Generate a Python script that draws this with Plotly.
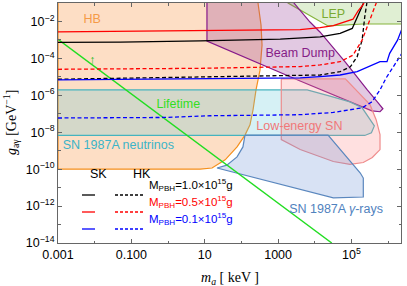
import plotly.graph_objects as go

# ---------------- data (m_a in keV, g in GeV^-1) ----------------
hb_m = [1e-3, 1e-3, 7.5, 15.8, 36, 76, 125, 171, 207, 250, 321, 365, 342, 283, 270]
hb_g = [1.0, 1e-10, 1e-10, 1.15e-10, 3.2e-10, 1.6e-9, 7e-9, 2.5e-8, 1.6e-7, 1.95e-6, 2.3e-5, 5.3e-4, 6.4e-3, 0.1, 1.0]

lep_m = [1000, 1860, 2.3e4, 2.07e5, 3e6, 3e6]
lep_g = [1.0, 0.1, 5.7e-3, 7.3e-3, 7.3e-3, 1.0]

bd_m = [11.5, 11.5, 3980, 1.43e5, 3.6e5, 6e5, 7.2e5, 5e5, 2.7e5, 6.8e4, 1.38e4, 7400, 2700, 1500]
bd_g = [1.0, 8.7e-4, 6.0e-6, 3.1e-7, 1.45e-7, 1.29e-7, 1.86e-7, 4.5e-7, 1.95e-6, 6.3e-5, 2.7e-3, 9.3e-3, 0.1, 1.0]

nu_m = [1e-3, 6.2e3, 2.6e4, 9.1e4, 1.95e5, 4.2e5, 3.5e5, 2.3e5, 1e-3]
nu_g = [1.95e-6, 1.95e-6, 9.1e-7, 4.4e-7, 2.1e-7, 2.2e-8, 9.3e-9, 6.7e-9, 6.7e-9]

le_m = [1.22e3, 6.8e4, 3.2e5, 4.7e5, 6e5, 6e5, 3.7e5, 2.1e5, 9.1e4, 3.2e4, 4e3, 1.22e3, 1.22e3]
le_g = [7.7e-6, 7.7e-6, 3.1e-7, 4.8e-8, 7.4e-9, 1.15e-9, 4.3e-10, 2.3e-10, 1.8e-10, 2.6e-10, 1.15e-9, 4e-9, 7.7e-6]

ga_m = [125, 2.3e4, 1.74e5, 2.1e5, 2.1e5, 3.2e4, 21.6, 40, 76, 110, 125]
ga_g = [7e-9, 7e-9, 6.2e-11, 3.3e-11, 3.1e-12, 2.8e-12, 1.15e-10, 1.65e-10, 4.6e-10, 1.6e-9, 7e-9]

life_m = [1e-3, 2.9e4]
life_g = [1.07e-3, 1e-14]

sk10_m = [1e-3, 0.05, 7.5, 1140, 1.4e4, 4.9e4, 1.05e5, 1.43e5, 2.1e5, 2.3e5]
sk10_g = [7.3e-4, 7.6e-4, 8.9e-4, 1.1e-3, 1.48e-3, 2.24e-3, 4.2e-3, 1.76e-2, 9.3e-2, 0.28]

sk05_m = [1e-3, 7.5, 4e3, 1.4e4, 3.2e4, 1.1e5, 1.5e5, 2.1e5, 2.5e5]
sk05_g = [2.74e-3, 3.1e-3, 3.6e-3, 4.6e-3, 5.9e-3, 1.32e-2, 3.6e-2, 8.5e-2, 0.2]

sk01_m = [1e-3, 7.5, 4e3, 1.4e4, 4.9e4, 1.43e5, 3.9e5, 6e5, 9.3e5, 1.1e6, 1.8e6, 2.4e6]
sk01_g = [6.8e-6, 7.7e-6, 8.7e-6, 1.02e-5, 1.26e-5, 1.9e-5, 4.4e-5, 6.6e-5, 6.6e-5, 1.87e-4, 9.7e-4, 4.2e-3]

hk10_m = [1e-3, 7.5, 4e3, 1.4e4, 4.9e4, 9.3e4, 1.43e5, 1.95e5, 2.3e5, 2.7e5, 2.9e5]
hk10_g = [7.4e-6, 9.5e-6, 1.12e-5, 1.26e-5, 1.9e-5, 3.5e-5, 1.23e-4, 9.7e-4, 1.76e-2, 9.3e-2, 0.38]

hk05_m = [1e-3, 7.5, 4e3, 1.4e4, 4.9e4, 1.1e5, 1.95e5, 3.2e5, 4.5e5, 5.4e5]
hk05_g = [2.57e-5, 2.9e-5, 3.6e-5, 4.4e-5, 6.6e-5, 1.5e-4, 9.7e-4, 1.17e-2, 6.1e-2, 0.2]

hk01_m = [1e-3, 0.74, 14, 4e3, 3.2e4, 1.95e5, 3.6e5, 6e5, 8.8e5, 1.3e6, 1.8e6, 2.4e6]
hk01_g = [5.9e-8, 6.3e-8, 7.8e-8, 8.9e-8, 1.18e-7, 2.1e-7, 4.4e-7, 1.95e-6, 8.7e-6, 3e-5, 8.1e-5, 1.95e-4]

x_tickvals = [1e-3, 0.1, 10, 1000, 1e5]
x_ticktext = ["0.001", "0.100", "10", "1000", "10<sup>5</sup>"]
x_minor = [1e-2, 1, 100, 1e4, 1e6]
y_tickvals = [1e-14, 1e-12, 1e-10, 1e-8, 1e-6, 1e-4, 1e-2]
y_ticktext = ["10<sup>−14</sup>", "10<sup>−12</sup>", "10<sup>−10</sup>", "10<sup>−8</sup>",
              "10<sup>−6</sup>", "10<sup>−4</sup>", "10<sup>−2</sup>"]
y_minor = [1e-13, 1e-11, 1e-9, 1e-7, 1e-5, 1e-3]

legend_rows = ["M<sub>PBH</sub>=1.0×10<sup>15</sup>g",
               "M<sub>PBH</sub>=0.5×10<sup>15</sup>g",
               "M<sub>PBH</sub>=0.1×10<sup>15</sup>g"]
legend_colors = ["black", "#ff0000", "#0000ff"]

# ---------------- figure ----------------
fig = go.Figure()
FONT = "Liberation Sans, Arial, sans-serif"
SERIF = "Liberation Serif, Times New Roman, serif"


def region(x, y, fill, line):
    fig.add_trace(go.Scatter(x=x, y=y, mode="lines", fill="toself", fillcolor=fill,
                             line=dict(color=line, width=1.2), hoverinfo="skip",
                             showlegend=False))


region(hb_m, hb_g, "rgba(250,160,90,0.35)", "#f5901e")
region(lep_m, lep_g, "rgba(130,190,80,0.25)", "#86b43c")
region(bd_m, bd_g, "rgba(150,60,150,0.28)", "#87198a")
region(nu_m, nu_g, "rgba(90,200,215,0.25)", "#45b4bf")
region(le_m, le_g, "rgba(255,130,130,0.25)", "#ef8c8c")
region(ga_m, ga_g, "rgba(100,140,210,0.25)", "#5a87be")


def curve(x, y, color, dash="solid", width=1.3):
    fig.add_trace(go.Scatter(x=x, y=y, mode="lines", line=dict(color=color, width=width, dash=dash),
                             hoverinfo="skip", showlegend=False))


curve(life_m, life_g, "#22dd22", width=1.4)
DASH = "4px,2.5px"
curve(hk10_m, hk10_g, "black", DASH)
curve(hk05_m, hk05_g, "#ff0000", DASH)
curve(hk01_m, hk01_g, "#0000ff", DASH)
curve(sk10_m, sk10_g, "black")
curve(sk05_m, sk05_g, "#ff0000")
curve(sk01_m, sk01_g, "#0000ff")


def label(x, y, text, color, pos="middle center", size=12.5):
    fig.add_trace(go.Scatter(x=[x], y=[y], mode="text", text=[text], textposition=pos,
                             textfont=dict(color=color, size=size, family=FONT),
                             hoverinfo="skip", showlegend=False))


label(8.6e-3, 1.2e-2, "HB", "#f59a46")
label(3.2e4, 2.4e-2, "LEP", "#7aaa32")
label(4e3, 1.7e-4, "Beam Dump", "#861c86")
label(1.9, 3.1e-7, "Lifetime", "#33dd22")
label(8.6e-3, 7.5e-5, "↑", "#22bb22", size=12)
label(1.35e-3, 1.9e-9, "SN 1987A neutrinos", "#3cb4c8", pos="middle right")
label(3.8e3, 2e-8, "Low-energy SN", "#f07878")
label(3.8e4, 6.6e-13, "SN 1987A <i>γ</i>-rays", "#5082be")

# legend block and axis titles (paper coords)
L, R, T, B = 58, 6, 3, 43
PW, PH = 407 - L - R, 286 - T - B


def px_x(p):
    return (p - L) / PW


def px_y(p):
    return (286 - B - p) / PH


annotations = [
    dict(x=px_x(88), y=px_y(183), text="SK", showarrow=False, font=dict(size=12.5, color="black", family=FONT)),
    dict(x=px_x(131), y=px_y(183), text="HK", showarrow=False, font=dict(size=12.5, color="black", family=FONT)),
    dict(x=0.5, y=px_y(278), text="<i>m<sub>a</sub></i> [ keV ]", showarrow=False, yanchor="middle",
         font=dict(size=14, color="black", family=SERIF)),
    dict(x=px_x(11), y=0.5, text="<i>g</i><sub>aγ</sub> [GeV<sup>−1</sup>]", showarrow=False,
         textangle=-90, xanchor="center", yanchor="middle",
         font=dict(size=14, color="black", family=SERIF)),
]
shapes = []
for i, (txt, col) in enumerate(zip(legend_rows, legend_colors)):
    yy = px_y(195 + 17 * i)
    shapes.append(dict(type="line", xref="paper", yref="paper", x0=px_x(82), x1=px_x(95), y0=yy, y1=yy,
                       line=dict(color=col, width=1.3)))
    shapes.append(dict(type="line", xref="paper", yref="paper", x0=px_x(115), x1=px_x(143), y0=yy, y1=yy,
                       line=dict(color=col, width=1.3, dash="3px,2px")))
    annotations.append(dict(x=px_x(147), y=yy, text=txt, showarrow=False, xanchor="left",
                            font=dict(size=11.5, color=col, family=FONT)))
for a in annotations:
    a.setdefault("xref", "paper")
    a.setdefault("yref", "paper")

AX = "#666666"
fig.update_layout(
    width=407, height=286,
    margin=dict(l=L, r=R, t=T, b=B, autoexpand=False),
    paper_bgcolor="white", plot_bgcolor="white",
    font=dict(family=FONT, size=12.5, color="black"),
    shapes=shapes, annotations=annotations,
    xaxis=dict(type="log", range=[-3, 6.35], tickvals=x_tickvals, ticktext=x_ticktext,
               ticks="inside", ticklen=4, tickcolor=AX, showline=True, linecolor=AX, linewidth=1,
               mirror="ticks", showgrid=False, zeroline=False, automargin=False,
               minor=dict(tickvals=x_minor, ticks="inside", ticklen=2.5, tickcolor=AX)),
    yaxis=dict(type="log", range=[-14, -1.0], tickvals=y_tickvals, ticktext=y_ticktext,
               ticks="inside", ticklen=4, tickcolor=AX, showline=True, linecolor=AX, linewidth=1,
               mirror="ticks", showgrid=False, zeroline=False, automargin=False,
               minor=dict(tickvals=y_minor, ticks="inside", ticklen=2.5, tickcolor=AX)),
)

fig.write_html("out.html", config={"displayModeBar": False},
               post_script="document.body.style.margin='0px';")
